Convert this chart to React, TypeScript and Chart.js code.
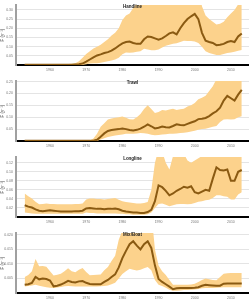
import React, { useEffect, useRef } from "react";
import { Chart, registerables } from "chart.js";

Chart.register(...registerables);

const YEARS = [
  1953, 1954, 1955, 1956, 1957, 1958, 1959, 1960, 1961, 1962, 1963, 1964, 1965, 1966, 1967, 1968, 1969,
  1970, 1971, 1972, 1973, 1974, 1975, 1976, 1977, 1978, 1979, 1980, 1981, 1982, 1983, 1984, 1985, 1986,
  1987, 1988, 1989, 1990, 1991, 1992, 1993, 1994, 1995, 1996, 1997, 1998, 1999, 2000, 2001, 2002, 2003,
  2004, 2005, 2006, 2007, 2008, 2009, 2010, 2011, 2012, 2013,
];
const X_TICKS = [1960, 1970, 1980, 1990, 2000, 2010];

// Handline
const HL_MED = [
  0.002, 0.002, 0.002, 0.002, 0.002, 0.002, 0.002, 0.002, 0.002, 0.002, 0.002, 0.002, 0.002, 0.002, 0.003, 0.004,
  0.008, 0.018, 0.03, 0.042, 0.052, 0.058, 0.065, 0.07, 0.078, 0.09, 0.105, 0.118, 0.125, 0.128, 0.12, 0.115,
  0.115, 0.14, 0.155, 0.152, 0.145, 0.138, 0.145, 0.158, 0.172, 0.178, 0.167, 0.2, 0.228, 0.25, 0.265, 0.278,
  0.25, 0.175, 0.132, 0.125, 0.12, 0.108, 0.11, 0.115, 0.125, 0.13, 0.125, 0.155, 0.172,
];
const HL_HI = [
  0.005, 0.005, 0.005, 0.005, 0.005, 0.005, 0.005, 0.005, 0.005, 0.005, 0.005, 0.006, 0.006, 0.007, 0.01, 0.02,
  0.04, 0.06, 0.075, 0.09, 0.1, 0.11, 0.125, 0.14, 0.16, 0.175, 0.2, 0.245, 0.27, 0.28, 0.31, 0.34,
  0.35, 0.37, 0.38, 0.37, 0.36, 0.36, 0.37, 0.38, 0.39, 0.4, 0.39, 0.41, 0.43, 0.45, 0.46, 0.46,
  0.42, 0.32, 0.27, 0.25, 0.235, 0.22, 0.225, 0.235, 0.26, 0.28, 0.3, 0.33, 0.36,
];
const HL_LO = [
  0, 0, 0, 0, 0, 0, 0, 0, 0, 0, 0, 0, 0, 0, 0, 0,
  0, 0.004, 0.008, 0.01, 0.01, 0.012, 0.016, 0.02, 0.025, 0.03, 0.04, 0.058, 0.068, 0.067, 0.068, 0.072,
  0.075, 0.088, 0.085, 0.08, 0.08, 0.085, 0.095, 0.105, 0.11, 0.115, 0.118, 0.125, 0.132, 0.13, 0.13, 0.128,
  0.12, 0.1, 0.075, 0.065, 0.06, 0.055, 0.055, 0.06, 0.065, 0.068, 0.072, 0.078, 0.082,
];

// Trawl
const TR_MED = [
  0.001, 0.001, 0.001, 0.001, 0.001, 0.001, 0.001, 0.001, 0.001, 0.001, 0.001, 0.001, 0.001, 0.001, 0.001, 0.001,
  0.001, 0.001, 0.001, 0.001, 0.005, 0.018, 0.032, 0.042, 0.046, 0.048, 0.05, 0.053, 0.05, 0.046, 0.044, 0.047,
  0.052, 0.06, 0.07, 0.062, 0.053, 0.056, 0.061, 0.058, 0.057, 0.063, 0.07, 0.067, 0.066, 0.072, 0.078, 0.083,
  0.092, 0.094, 0.097, 0.105, 0.116, 0.125, 0.14, 0.17, 0.19, 0.18, 0.17, 0.195, 0.215,
];
const TR_HI = [
  0.002, 0.002, 0.002, 0.002, 0.002, 0.002, 0.002, 0.002, 0.002, 0.002, 0.002, 0.002, 0.002, 0.002, 0.002, 0.002,
  0.002, 0.002, 0.002, 0.01, 0.03, 0.06, 0.075, 0.09, 0.095, 0.098, 0.1, 0.103, 0.098, 0.092, 0.09, 0.1,
  0.114, 0.135, 0.15, 0.135, 0.118, 0.122, 0.13, 0.128, 0.132, 0.136, 0.13, 0.134, 0.136, 0.145, 0.15, 0.16,
  0.176, 0.182, 0.19, 0.21, 0.23, 0.26, 0.29, 0.31, 0.32, 0.32, 0.31, 0.33, 0.34,
];
const TR_LO = [
  0, 0, 0, 0, 0, 0, 0, 0, 0, 0, 0, 0, 0, 0, 0, 0,
  0, 0, 0, 0, 0, 0.006, 0.012, 0.017, 0.02, 0.023, 0.025, 0.027, 0.03, 0.03, 0.03, 0.032,
  0.034, 0.033, 0.03, 0.026, 0.024, 0.025, 0.027, 0.028, 0.03, 0.031, 0.032, 0.034, 0.035, 0.037, 0.04, 0.043,
  0.047, 0.05, 0.052, 0.056, 0.06, 0.063, 0.08, 0.09, 0.092, 0.09, 0.092, 0.1, 0.104,
];

// Longline
const LL_MED = [
  0.026, 0.023, 0.021, 0.017, 0.014, 0.013, 0.014, 0.015, 0.014, 0.013, 0.012, 0.012, 0.012, 0.012, 0.013, 0.013,
  0.014, 0.019, 0.02, 0.019, 0.018, 0.018, 0.017, 0.018, 0.018, 0.019, 0.017, 0.014, 0.012, 0.011, 0.01, 0.01,
  0.009, 0.009, 0.011, 0.016, 0.035, 0.07, 0.066, 0.058, 0.048, 0.052, 0.058, 0.062, 0.067, 0.065, 0.068, 0.055,
  0.052, 0.056, 0.06, 0.058, 0.085, 0.11, 0.104, 0.103, 0.105, 0.08, 0.08, 0.1, 0.104,
];
const LL_HI = [
  0.052, 0.046, 0.041, 0.034, 0.028, 0.029, 0.03, 0.029, 0.029, 0.028, 0.028, 0.028, 0.028, 0.028, 0.029, 0.029,
  0.03, 0.039, 0.041, 0.041, 0.04, 0.04, 0.039, 0.04, 0.041, 0.042, 0.038, 0.035, 0.033, 0.032, 0.031, 0.03,
  0.03, 0.031, 0.033, 0.06, 0.12, 0.15, 0.145, 0.12, 0.105, 0.135, 0.15, 0.145, 0.14, 0.125, 0.12, 0.125,
  0.13, 0.135, 0.14, 0.14, 0.16, 0.2, 0.19, 0.19, 0.2, 0.17, 0.17, 0.19, 0.2,
];
const LL_LO = [
  0.01, 0.009, 0.008, 0.007, 0.007, 0.007, 0.007, 0.007, 0.007, 0.007, 0.007, 0.007, 0.007, 0.007, 0.007, 0.007,
  0.007, 0.01, 0.009, 0.009, 0.008, 0.008, 0.008, 0.008, 0.008, 0.008, 0.007, 0.007, 0.006, 0.006, 0.005, 0.005,
  0.005, 0.005, 0.006, 0.01, 0.02, 0.029, 0.03, 0.027, 0.024, 0.026, 0.028, 0.029, 0.029, 0.028, 0.029, 0.031,
  0.034, 0.035, 0.037, 0.038, 0.042, 0.048, 0.048, 0.046, 0.045, 0.039, 0.039, 0.05, 0.055,
];

// Mix/Boat
const MB_MED = [
  0.0028, 0.003, 0.0035, 0.0055, 0.0047, 0.005, 0.0048, 0.0043, 0.0023, 0.0025, 0.0029, 0.0035, 0.0042, 0.0038, 0.0036, 0.004,
  0.0041, 0.0035, 0.0031, 0.003, 0.003, 0.003, 0.0038, 0.0045, 0.0055, 0.0064, 0.0088, 0.012, 0.0145, 0.0168, 0.0178, 0.0163,
  0.015, 0.0168, 0.0178, 0.0155, 0.0095, 0.0048, 0.0038, 0.003, 0.0022, 0.0013, 0.0016, 0.0017, 0.0017, 0.0017, 0.0017, 0.0018,
  0.002, 0.0025, 0.0028, 0.0027, 0.0026, 0.0025, 0.0025, 0.0032, 0.0033, 0.0033, 0.0033, 0.0033, 0.0033,
];
const MB_HI = [
  0.0055, 0.0062, 0.0075, 0.0117, 0.0092, 0.0093, 0.009, 0.0075, 0.006, 0.0063, 0.0066, 0.0075, 0.0085, 0.0075, 0.0071, 0.008,
  0.0086, 0.0072, 0.0061, 0.0062, 0.0063, 0.0064, 0.0078, 0.0089, 0.011, 0.0128, 0.0183, 0.0215, 0.026, 0.028, 0.03, 0.03,
  0.03, 0.03, 0.03, 0.028, 0.015, 0.0095, 0.0075, 0.0062, 0.0045, 0.0028, 0.0028, 0.0028, 0.0028, 0.0028, 0.0029, 0.0032,
  0.0038, 0.0045, 0.005, 0.0047, 0.0045, 0.0044, 0.0055, 0.0066, 0.0068, 0.0069, 0.0069, 0.0069, 0.0069,
];
const MB_LO = [
  0.0022, 0.0024, 0.0026, 0.0028, 0.0025, 0.0022, 0.002, 0.0018, 0.0017, 0.0019, 0.0021, 0.0023, 0.0024, 0.0023, 0.0022, 0.0022,
  0.0022, 0.0022, 0.0022, 0.0022, 0.0022, 0.0023, 0.0024, 0.0026, 0.003, 0.0035, 0.005, 0.0065, 0.0075, 0.0083, 0.008, 0.0077,
  0.008, 0.0085, 0.0089, 0.0078, 0.0045, 0.0028, 0.0024, 0.0018, 0.0011, 0.0008, 0.0008, 0.0009, 0.001, 0.001, 0.0011, 0.0012,
  0.0014, 0.0016, 0.0017, 0.0017, 0.0017, 0.0018, 0.0019, 0.002, 0.002, 0.002, 0.002, 0.002, 0.002,
];

const HL_TICKS = [0.05, 0.1, 0.15, 0.2, 0.25, 0.3];
const HL_LABELS = ["0.05", "0.10", "0.15", "0.20", "0.25", "0.30"];
const TR_TICKS = [0.05, 0.1, 0.15, 0.2, 0.25];
const TR_LABELS = ["0.05", "0.10", "0.15", "0.20", "0.25"];
const LL_TICKS = [0.02, 0.04, 0.06, 0.08, 0.1, 0.12];
const LL_LABELS = ["0.02", "0.04", "0.06", "0.08", "0.10", "0.12"];
const MB_TICKS = [0.005, 0.01, 0.015, 0.02];
const MB_LABELS = ["0.005", "0.010", "0.015", "0.020"];

const TITLES = ["Handline", "Trawl", "Longline", "Mix/Boat"];
const Y_TITLE = "F (y\u207B\u00B9)";

const BAND = "#fcd28c";
const LINE = "#8a5a12";
const FONT = "'Liberation Sans', Arial, sans-serif";

type PanelProps = {
  title: string;
  med: number[];
  hi: number[];
  lo: number[];
  yMax: number;
  ticks: number[];
  labels: string[];
  top: number;
};

const toXY = (arr: number[]) => arr.map((v, i) => ({ x: YEARS[i], y: v }));

function Panel({ title, med, hi, lo, yMax, ticks, labels, top }: PanelProps) {
  const ref = useRef<HTMLCanvasElement | null>(null);
  useEffect(() => {
    if (!ref.current) return;
    const titlePlugin = {
      id: "panelTitle",
      afterDraw(chart: any) {
        const { ctx, chartArea } = chart;
        ctx.save();
        ctx.font = `bold 4.5px ${FONT}`;
        ctx.fillStyle = "#222";
        ctx.textAlign = "center";
        ctx.textBaseline = "middle";
        ctx.fillText(title, (chartArea.left + chartArea.right) / 2, chartArea.top + 1.5);
        ctx.restore();
      },
    };
    const chart = new Chart(ref.current, {
      type: "line",
      data: {
        datasets: [
          {
            label: "median",
            data: toXY(med),
            borderColor: LINE,
            borderWidth: 2,
            pointRadius: 0,
            fill: false,
            tension: 0,
          },
          {
            label: "upper",
            data: toXY(hi),
            borderColor: "transparent",
            borderWidth: 0,
            pointRadius: 0,
            backgroundColor: BAND,
            fill: "+1",
          },
          {
            label: "lower",
            data: toXY(lo),
            borderColor: "transparent",
            borderWidth: 0,
            pointRadius: 0,
            fill: false,
          },
        ],
      },
      options: {
        animation: false,
        responsive: true,
        maintainAspectRatio: false,
        layout: { padding: { top: 2, right: 0, left: 0, bottom: 0 } },
        plugins: { legend: { display: false }, tooltip: { enabled: false } },
        scales: {
          x: {
            type: "linear",
            min: 1950.6,
            max: 2015,
            afterBuildTicks: (s: any) => {
              s.ticks = X_TICKS.map((v) => ({ value: v }));
            },
            afterFit: (s: any) => {
              s.height = 11;
            },
            ticks: {
              font: { size: 3.5, family: FONT },
              color: "#777",
              padding: 2.5,
              maxRotation: 0,
              autoSkip: false,
              callback: (v: any) => String(v),
            },
            grid: { display: false, drawTicks: false },
            border: { color: "#000", width: 2 },
          },
          y: {
            min: 0,
            max: yMax,
            afterBuildTicks: (s: any) => {
              s.ticks = ticks.map((v) => ({ value: v }));
            },
            afterFit: (s: any) => {
              s.width = 16;
            },
            ticks: {
              font: { size: 3.5, family: FONT },
              color: "#777",
              padding: 3,
              callback: (_v: any, i: number) => labels[i],
            },
            grid: { color: "#e4e4e4", lineWidth: 1, drawTicks: false },
            border: { color: "#a0a0a0", width: 2 },
            title: {
              display: true,
              text: Y_TITLE,
              font: { size: 4.5, family: FONT },
              color: "#555",
              padding: 0,
            },
          },
        },
      },
      plugins: [titlePlugin],
    });
    return () => chart.destroy();
  }, []);
  return (
    <div style={{ position: "absolute", left: 0, top, width: 249, height: 76 }}>
      <canvas ref={ref} />
    </div>
  );
}

export default function App() {
  return (
    <div style={{ position: "absolute", left: 0, top: 0, width: 249, height: 305, background: "#fff" }}>
      <Panel title={TITLES[0]} med={HL_MED} hi={HL_HI} lo={HL_LO} yMax={0.326} ticks={HL_TICKS} labels={HL_LABELS} top={0} />
      <Panel title={TITLES[1]} med={TR_MED} hi={TR_HI} lo={TR_LO} yMax={0.252} ticks={TR_TICKS} labels={TR_LABELS} top={76} />
      <Panel title={TITLES[2]} med={LL_MED} hi={LL_HI} lo={LL_LO} yMax={0.1326} ticks={LL_TICKS} labels={LL_LABELS} top={152} />
      <Panel title={TITLES[3]} med={MB_MED} hi={MB_HI} lo={MB_LO} yMax={0.0206} ticks={MB_TICKS} labels={MB_LABELS} top={228} />
    </div>
  );
}
